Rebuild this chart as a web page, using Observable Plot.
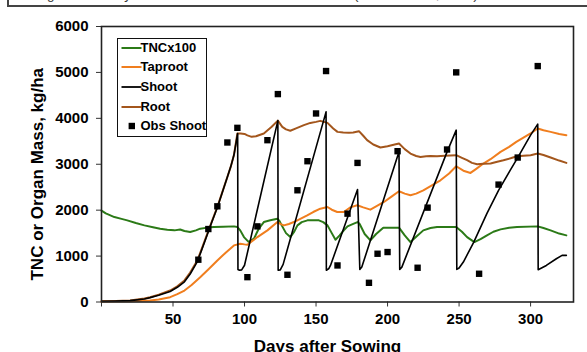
<!DOCTYPE html>
<html>
<head>
<meta charset="utf-8">
<script src="https://cdn.jsdelivr.net/npm/d3@7"></script>
<script src="https://cdn.jsdelivr.net/npm/@observablehq/plot@0.6"></script>
<style>
  html, body { margin: 0; padding: 0; background: white; }
  #wrap { position: relative; width: 587px; height: 352px; overflow: hidden; font-family: "Liberation Sans", Arial, sans-serif; }
  #capbox { position: absolute; left: 7px; top: -20px; width: 600px; height: 27px; border: 2px solid #444; box-sizing: border-box; background: white; }
  #captext { position: absolute; left: 8px; top: 6px; font-size: 13.5px; line-height: 1; color: #333; white-space: nowrap; }
  #chart { position: absolute; left: 0; top: 0; }
  #legend { position: absolute; left: 116.7px; top: 38.3px; width: 90.6px; height: 98.4px; border: 1.5px solid #111; box-sizing: border-box; background: white; }
  .lrow { position: absolute; left: 0; height: 16px; font-size: 13px; font-weight: bold; color: #000; }
</style>
</head>
<body>
<div id="wrap">
  <div id="chart"></div>
  <div id="capbox"><div id="captext"></div></div>
  <div id="legend"></div>
</div>
<script>
// ---- text ----
const captionText = "during 4 harvest cycles of PC cultivar in Arizona in 2010 (Ottman et al., 2013).";
const xLabel = "Days after Sowing";
const yLabel = "TNC or Organ Mass, kg/ha";
const xTicks = [0, 50, 100, 150, 200, 250, 300];
const yTicks = [0, 1000, 2000, 3000, 4000, 5000, 6000];

// ---- series ----
const seriesNames = ["TNCx100", "Taproot", "Shoot", "Root", "Obs Shoot"];
const seriesColors = ["#2b7a17", "#f07e1e", "#000000", "#a3561c", "#000000"];

const tncDays = [0,3,9,14,18,24,30,36,41,46,51,55,58,62,66,69,74,78.6,85,92.6,95,97,99.6,103,106.6,110,113.5,118,123,124.5,126,129,132,134.5,137,140,144,152,155,158,161,163.6,166.5,169.4,172,176,179,180.5,184,188,192,197,208,212,216,220,225,230,234.6,248,252,255.6,260.7,265,269.5,274,279,285,290.5,305,309,314,320,325];
const tncValues = [1990,1930,1850,1810,1778,1720,1669,1630,1597,1575,1560,1580,1545,1523,1560,1597,1620,1632,1640,1647,1632,1560,1414,1305,1379,1600,1741,1780,1815,1760,1669,1500,1414,1520,1669,1740,1778,1778,1740,1669,1500,1357,1450,1560,1647,1700,1741,1700,1480,1342,1480,1619,1619,1450,1305,1420,1560,1610,1632,1632,1530,1414,1305,1370,1451,1530,1582,1615,1632,1647,1610,1560,1490,1451];

const taprootDays = [0,20,34,40,48,53,58,63,69,75,81,87,92.6,97,100,102,105,109,116,123,125,127.5,131,134.5,139,143.8,148,153,158,161,164.8,169.4,174,178.8,183,188,192,197.5,203,208,212,216,220,225,231,237,243,248,253,258,262,267,272,279,285,290,295,300,305,309,314,320,325];
const taprootValues = [10,15,33,55,105,170,250,370,540,720,905,1080,1233,1270,1255,1248,1320,1414,1560,1741,1700,1669,1700,1741,1810,1887,1960,2033,2069,2010,1960,1960,2060,2106,2060,2011,2080,2178,2300,2411,2360,2324,2360,2433,2540,2651,2800,2957,2860,2811,2900,3015,3110,3269,3380,3487,3580,3670,3779,3740,3705,3660,3633];

const rootDays = [0,10,20,30,34,40,48,53,58,62,67,70,74,77,81,84,88,90.5,92.6,95,97.3,100,102,105,108,113.5,119,123.3,126.4,129,132,136,141.5,146,150,153,158,162,165,169,173,176,180,183,185.7,190,195,200,205,208,212,216,220,223,227,230,234.6,240,248,252,255.6,259,262.6,267,272,276,281,286,290.5,295,300,305,309,314,320,325];
const rootValues = [17,22,35,75,105,160,250,340,470,640,905,1150,1490,1740,2070,2350,2723,2960,3200,3670,3670,3660,3630,3597,3610,3670,3815,3950,3815,3760,3730,3780,3851,3900,3923,3945,3901,3779,3705,3690,3684,3690,3720,3620,3524,3430,3364,3390,3430,3451,3330,3233,3180,3160,3175,3181,3175,3185,3197,3140,3088,3030,3000,3010,3015,3050,3088,3130,3175,3185,3197,3233,3200,3146,3080,3030];

const shootDays = [0,10,20,30,34,40,48,53,58,62,67,70,74,77,81,84,88,90.5,92.6,95.2,95.4,96.5,98,100,123.3,123.5,125,127,157,157.2,159,160.1,179,180.6,182,208,208.5,210,241.6,248,248.4,250,253,260.2,269.5,277.6,285.8,291,300,305,305.3,311,318,322,325];
const shootValues = [15,20,30,65,95,145,230,320,440,610,880,1130,1470,1730,2060,2340,2720,2960,3200,3670,709,690,700,800,3950,690,700,820,4141,690,730,796,2448,709,760,3270,709,760,3270,3742,709,740,870,1300,1930,2433,2870,3146,3633,3873,703,796,942,1015,1015];

const obsDays = [67.7,74.7,81,88,95,102,109,116,123.3,130,137,144,150,157,165,172,179,187,193,200,207,221,228,241.6,248,264,277.6,291,305];
const obsValues = [921,1589,2084,3474,3793,541,1647,3524,4528,593,2433,3066,4106,5030,796,1924,3029,418,1051,1088,3284,746,2055,3321,5001,615,2557,3146,5138];

// ---- tables ----
const toRows = (days, vals) => days.map((d, i) => ({day: d, value: vals[i]}));
const tnc = toRows(tncDays, tncValues);
const taproot = toRows(taprootDays, taprootValues);
const root = toRows(rootDays, rootValues);
const shoot = toRows(shootDays, shootValues);
const obs = toRows(obsDays, obsValues);

const FONT = "'Liberation Sans', Arial, sans-serif";

const chart = Plot.plot({
  width: 587,
  height: 352,
  marginLeft: 101,
  marginRight: 14,
  marginTop: 26,
  marginBottom: 50.5,
  x: {domain: [0, 330]},
  y: {domain: [0, 6000]},
  style: {fontFamily: FONT, background: "white", color: "#000", overflow: "visible"},
  marks: [
    Plot.axisY({ticks: yTicks, tickSize: 5, tickPadding: 8, fontSize: 15, fontWeight: "bold", label: null, stroke: "#333", tickFormat: d => String(d)}),
    Plot.axisX({ticks: xTicks, tickSize: 5, tickPadding: 6, fontSize: 15, fontWeight: "bold", label: null, stroke: "#333", tickFormat: d => d === 0 ? "" : String(d)}),
    Plot.line(tnc, {x: "day", y: "value", stroke: seriesColors[0], strokeWidth: 2}),
    Plot.line(taproot, {x: "day", y: "value", stroke: seriesColors[1], strokeWidth: 2}),
    Plot.line(root, {x: "day", y: "value", stroke: seriesColors[3], strokeWidth: 2}),
    Plot.line(shoot, {x: "day", y: "value", stroke: seriesColors[2], strokeWidth: 1.6}),
    Plot.dot(obs, {x: "day", y: "value", symbol: "square", r: 3.6, fill: "#000", stroke: "none"}),
    Plot.frame({stroke: "#222", strokeWidth: 1.6}),
    Plot.text([xLabel], {text: d => d, frameAnchor: "bottom", textAnchor: "middle", dx: -10, dy: 50, lineAnchor: "bottom", fontSize: 17, fontWeight: "bold"}),
    Plot.text([yLabel], {text: d => d, frameAnchor: "left", textAnchor: "middle", rotate: -90, dx: -59, dy: 10, lineAnchor: "bottom", fontSize: 17, fontWeight: "bold"})
  ]
});
document.getElementById("chart").appendChild(chart);

document.getElementById("captext").textContent = captionText;

// ---- legend ----
const legend = document.getElementById("legend");
seriesNames.forEach((name, i) => {
  const row = document.createElement("div");
  row.className = "lrow";
  row.style.top = (10 + 19.6 * i - 8 - 1.5) + "px";
  const svgNS = "http://www.w3.org/2000/svg";
  const sw = document.createElementNS(svgNS, "svg");
  sw.setAttribute("width", "22");
  sw.setAttribute("height", "16");
  sw.style.position = "absolute";
  sw.style.left = "2px";
  sw.style.top = "0px";
  if (name === "Obs Shoot") {
    const r = document.createElementNS(svgNS, "rect");
    r.setAttribute("x", 8.6); r.setAttribute("y", 4.8);
    r.setAttribute("width", 6.4); r.setAttribute("height", 6.4);
    r.setAttribute("fill", seriesColors[i]);
    sw.appendChild(r);
  } else {
    const l = document.createElementNS(svgNS, "line");
    l.setAttribute("x1", 1.5); l.setAttribute("x2", 21.5);
    l.setAttribute("y1", 8); l.setAttribute("y2", 8);
    l.setAttribute("stroke", seriesColors[i]);
    l.setAttribute("stroke-width", name === "Shoot" ? 1.8 : 2);
    sw.appendChild(l);
  }
  row.appendChild(sw);
  const t = document.createElement("span");
  t.textContent = name;
  t.style.position = "absolute";
  t.style.left = "22.8px";
  t.style.top = "0px";
  t.style.lineHeight = "16px";
  t.style.whiteSpace = "nowrap";
  row.appendChild(t);
  legend.appendChild(row);
});
</script>
</body>
</html>
